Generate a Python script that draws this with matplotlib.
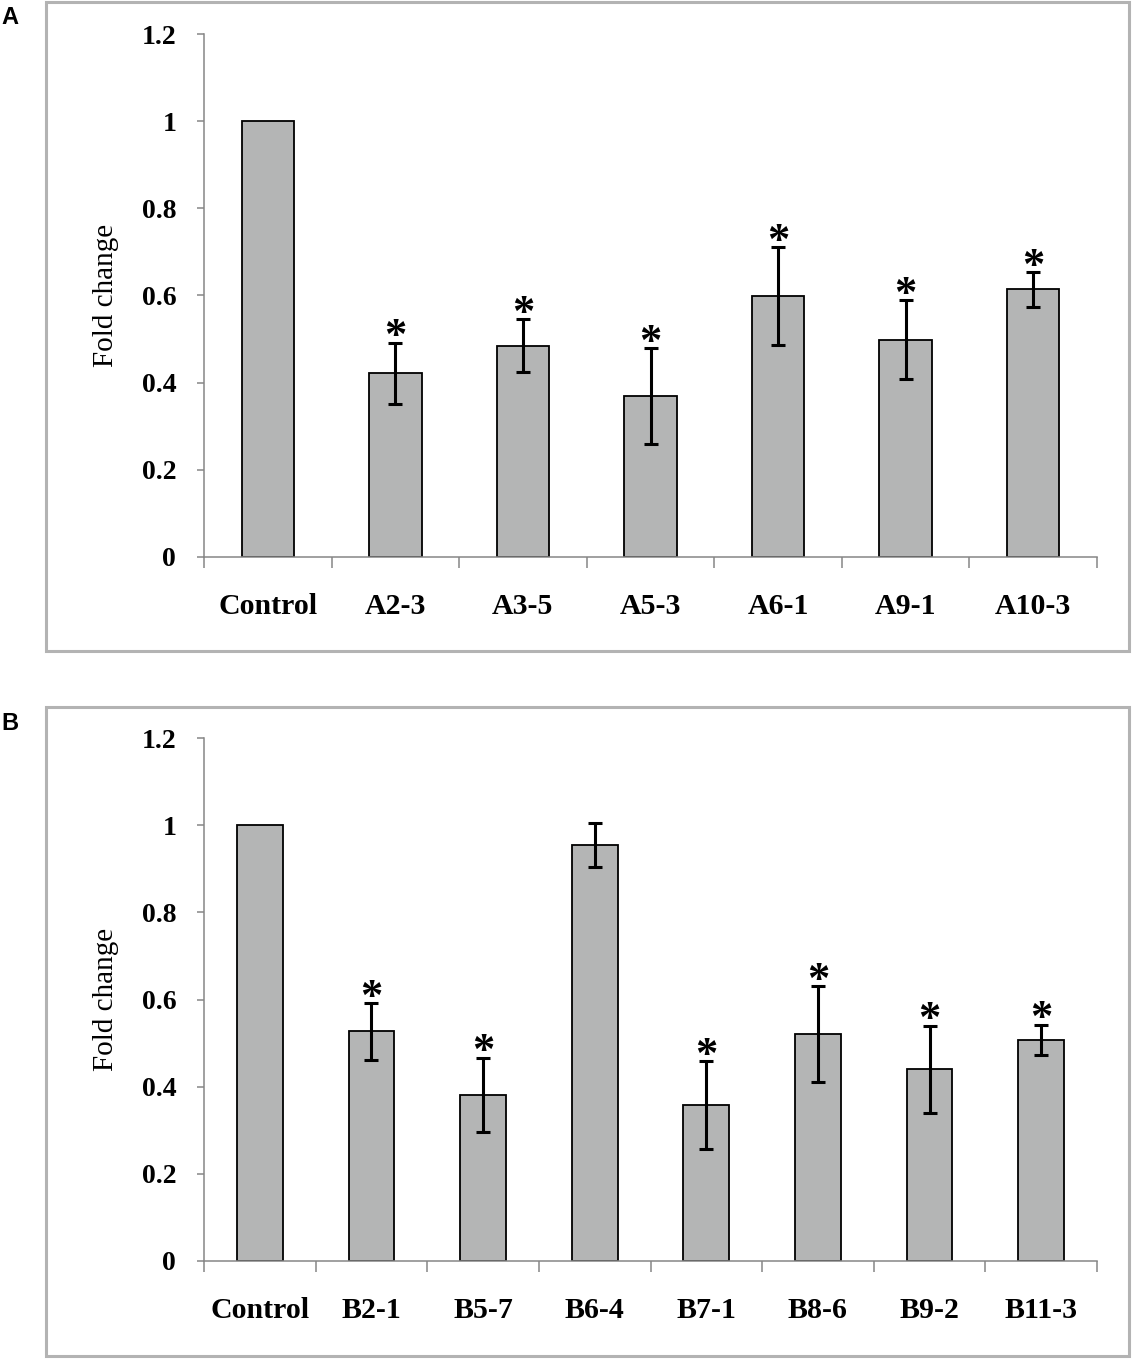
import matplotlib
matplotlib.use("Agg")
import matplotlib.pyplot as plt
from matplotlib.patches import Rectangle
import numpy as np

# ---- data ----
cats_a = ["Control", "A2-3", "A3-5", "A5-3", "A6-1", "A9-1", "A10-3"]
vals_a = [1.0, 0.422, 0.485, 0.369, 0.599, 0.499, 0.614]
errs_a = [0.0, 0.070, 0.060, 0.110, 0.112, 0.090, 0.040]
sig_a = [False, True, True, True, True, True, True]

cats_b = ["Control", "B2-1", "B5-7", "B6-4", "B7-1", "B8-6", "B9-2", "B11-3"]
vals_b = [1.0, 0.527, 0.381, 0.954, 0.358, 0.520, 0.440, 0.507]
errs_b = [0.0, 0.065, 0.085, 0.050, 0.100, 0.110, 0.100, 0.035]
sig_b = [False, True, True, False, True, True, True, True]

yticks = [0, 0.2, 0.4, 0.6, 0.8, 1, 1.2]
ytick_labels = ["0", "0.2", "0.4", "0.6", "0.8", "1", "1.2"]
ylabel = "Fold change"
panel_labels = ["A", "B"]

W, H = 1132, 1359
fig = plt.figure(figsize=(W / 100, H / 100), dpi=100)

SERIF = ["Liberation Serif", "DejaVu Serif"]
AXCOL = "#868686"
BARCOL = "#b4b5b5"
BOXCOL = "#b3b3b3"


def fx(px):
    return px / W


def fy(py):
    return 1 - py / H


def draw_panel(rect, cats, vals, errs, sig, box, label, label_xy):
    # outer frame
    x0, y0, x1, y1 = box
    fig.patches.append(Rectangle((fx(x0), fy(y1)), fx(x1) - fx(x0), fy(y0) - fy(y1),
                                 transform=fig.transFigure, fill=False,
                                 edgecolor=BOXCOL, linewidth=2.2, zorder=0))
    fig.text(fx(label_xy[0]), fy(label_xy[1]), label, fontsize=17, fontweight="bold",
             family=["Liberation Sans", "DejaVu Sans"], ha="center", va="center")

    ax = fig.add_axes(rect)
    n = len(cats)
    x = np.arange(n)
    ax.bar(x, vals, width=0.41, color=BARCOL, edgecolor="black", linewidth=1.3, zorder=2)
    xe = [i for i in range(n) if errs[i] > 0]
    ax.errorbar([x[i] for i in xe], [vals[i] for i in xe], yerr=[errs[i] for i in xe],
                fmt="none", ecolor="black", elinewidth=2.2, capsize=5, capthick=2.2, zorder=3)
    for i in range(n):
        if sig[i]:
            ax.annotate("*", (x[i], vals[i] + errs[i]), xytext=(0, -4),
                        textcoords="offset points", ha="center", va="baseline",
                        fontsize=32, fontweight="bold", family=SERIF, zorder=4)
    ax.set_xlim(-0.5, n - 0.5)
    ax.set_ylim(0, 1.2)
    for s in ["top", "right"]:
        ax.spines[s].set_visible(False)
    for s in ["left", "bottom"]:
        ax.spines[s].set_color(AXCOL)
        ax.spines[s].set_linewidth(1.1)
    ax.set_yticks(yticks)
    ax.set_yticklabels(ytick_labels, fontsize=20, fontweight="bold", family=SERIF)
    ax.tick_params(axis="y", direction="out", length=5, width=1.1, color=AXCOL, pad=15)
    # boundaries as major ticks, labels on minor ticks at centers
    ax.set_xticks(np.arange(-0.5, n, 1.0))
    ax.set_xticklabels([])
    ax.tick_params(axis="x", which="major", direction="out", length=8, width=1.1, color=AXCOL)
    ax.set_xticks(x, minor=True)
    ax.set_xticklabels(cats, minor=True, fontsize=21.5, fontweight="bold", family=SERIF)
    ax.tick_params(axis="x", which="minor", length=0, pad=26)
    ax.set_ylabel(ylabel, fontsize=21, family=SERIF)
    ax.yaxis.set_label_coords(-0.095, 0.5)
    ax.patch.set_alpha(0)
    return ax


ax_w = fx(1097) - fx(204)
ax_h = (557 - 34) / H
draw_panel([fx(204), fy(557), ax_w, ax_h], cats_a, vals_a, errs_a, sig_a,
           (46, 2, 1129, 651), panel_labels[0], (10, 17))
draw_panel([fx(204), fy(1261), ax_w, ax_h], cats_b, vals_b, errs_b, sig_b,
           (46, 707, 1129, 1356), panel_labels[1], (10, 724))

fig.savefig("out.png", dpi=100, facecolor="white")
